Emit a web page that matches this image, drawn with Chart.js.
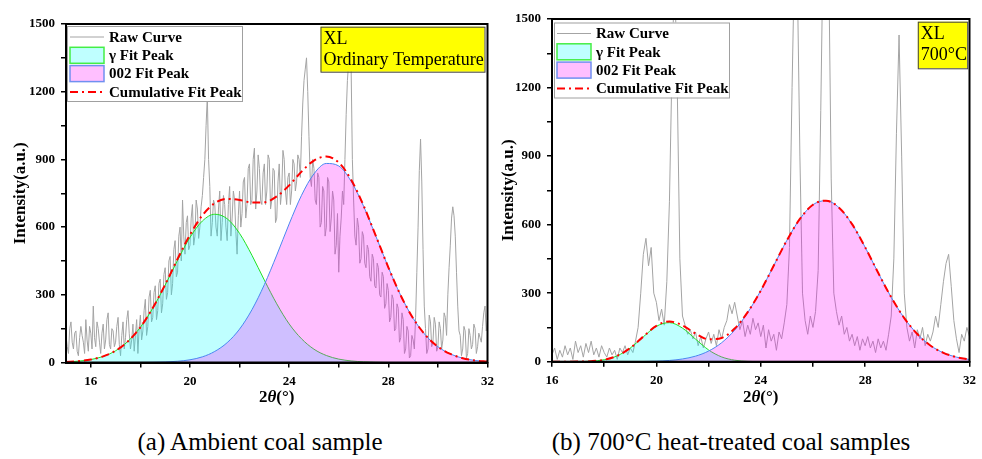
<!DOCTYPE html>
<html>
<head>
<meta charset="utf-8">
<script src="https://cdn.jsdelivr.net/npm/chart.js@4/dist/chart.umd.min.js"></script>
<style>
  html, body { margin:0; padding:0; background:#fff; }
  body { width:982px; height:459px; position:relative; overflow:hidden; font-family:'Liberation Serif','Times New Roman',serif; }
  .wrap { position:absolute; top:0; }
  .cap { position:absolute; top:427px; font-family:'Liberation Serif','Times New Roman',serif; font-size:25px; line-height:30px; white-space:nowrap; transform:translateX(-50%); color:#000; }
</style>
</head>
<body>
<div class="wrap" style="left:0px"><canvas id="c1" width="500" height="408"></canvas></div>
<div class="wrap" style="left:490px"><canvas id="c2" width="492" height="408"></canvas></div>
<div class="cap" style="left:260px">(a) Ambient coal sample</div>
<div class="cap" style="left:731px">(b) 700°C heat-treated coal samples</div>
<script>
// ---------- DATA ----------
const seriesLabels = ['Raw Curve', 'γ Fit Peak', '002 Fit Peak', 'Cumulative Fit Peak'];

// (a) Ambient: raw curve, 2θ = 15.00 .. 32.00 step 0.05
const rawStartA = 15.0, rawStepA = 0.05;
const rawA = [
  120,70,40,150,180,90,60,130,140,50,30,110,160,120,90,40,190,100,50,160,
  130,60,250,110,70,180,150,90,40,130,170,60,100,190,220,80,60,150,140,70,
  90,160,200,80,30,120,180,60,110,190,230,130,60,100,170,50,120,190,40,150,
  210,100,140,230,280,120,160,290,320,180,200,310,340,190,230,350,370,220,260,390,
  420,280,310,450,470,300,350,500,540,380,400,560,600,450,720,560,480,620,650,500,
  520,640,700,520,560,720,680,550,600,690,740,820,900,1050,1180,900,780,560,620,720,
  700,600,560,680,760,540,620,740,700,600,540,700,780,560,640,760,720,580,480,650,
  760,600,660,800,820,640,700,860,880,700,720,900,950,680,760,920,860,720,700,840,
  880,700,760,920,900,680,720,860,850,620,640,800,880,700,760,940,900,760,700,820,
  840,700,760,900,880,760,800,920,900,820,1000,1150,1250,1300,1350,1200,1000,820,780,900,
  860,720,700,840,820,600,620,780,760,560,600,820,800,580,640,760,720,480,520,660,
  400,560,640,760,700,900,1100,1250,1330,1400,1300,900,720,560,520,640,600,440,460,580,
  560,440,420,520,500,380,360,480,460,340,330,440,420,300,290,400,380,240,260,350,
  320,180,200,300,280,140,150,260,240,90,110,220,190,40,60,160,140,20,30,120,
  100,60,200,400,600,850,990,800,500,250,150,40,60,210,180,70,90,200,170,50,
  70,180,150,60,100,220,200,120,300,420,520,640,690,650,560,400,250,140,120,30,
  60,160,140,20,40,150,120,60,80,170,150,40,70,130,110,90,160,220,250,140,
  190
];
// (a) fit curves, 2θ = 15.0 .. 32.0 step 0.5
const fitStartA = 15.0, fitStepA = 0.5;
const gammaA = [2,6,13,27,52,94,156,241,343,453,554,627,657,637,572,475,365,260,171,105,59,31,15,7,3,1,0,0,0,0,0,0,0,0,0];
const peak002A = [0,0,0,0,0,0,0.3,0.9,2.3,5.5,12,25,49,88,148,234,345,476,614,741,836,882,871,803,693,559,422,297,196,121,70,38,19,9,4];
const cumA = [2,6,13,27,52,94,156,242,345,459,566,652,706,725,720,709,710,736,785,846,895,913,886,810,696,560,422,297,196,121,70,38,19,9,4];

// (b) 700°C: raw curve, 2θ = 16.0 .. 32.0 step 0.1
const rawStartB = 16.0, rawStepB = 0.1;
const rawB = [
  30,60,10,50,20,70,30,60,10,90,
  40,70,20,80,40,90,30,60,20,70,
  40,20,60,30,50,10,60,40,70,30,
  60,40,90,150,300,470,540,420,500,300,
  260,180,230,160,350,700,1300,1700,1200,450,
  200,160,120,140,100,130,70,110,60,100,
  130,80,120,70,140,100,150,180,250,210,
  260,200,140,180,110,160,120,190,140,170,
  110,160,60,140,90,120,50,130,100,170,
  250,500,1200,1800,1700,900,300,180,120,200,
  150,220,400,1100,1900,2100,1800,800,300,220,
  160,200,120,150,90,120,70,110,50,100,
  70,110,60,90,40,100,60,90,50,120,
  200,450,1000,1430,900,300,150,90,130,60,
  140,100,150,70,120,90,130,200,150,250,
  350,430,470,330,180,100,40,120,90,150,
  110
];
// (b) fit curves, 2θ = 16.0 .. 32.0 step 0.5
const fitStartB = 16.0, fitStepB = 0.5;
const gammaB = [0,0,0.4,2.2,8.5,25.6,60,109,155,171,147,99,51.5,20.9,6.6,1.6,0.3,0,0,0,0,0,0,0,0,0,0,0,0,0,0,0,0];
const peak002B = [0,0,0,0,0,0.1,0.3,0.9,2.3,5.4,11.9,24.3,46.5,83,138,215,311,421,531,625,687,705,674,602,501,389,282,191,121,71,39,20,9.6];
const cumB = [0,0,0.4,2.2,8.5,26,60,110,157,176,159,123,98,104,145,217,311,421,531,625,687,705,674,602,501,389,282,191,121,71,39,20,9.6];

const yTicks = [0,150,300,450,600,750,900,1050,1200,1350,1500];
const xTicksA = [16,18,20,22,24,26,28,30,32];
const xTicksB = [16,18,20,22,24,26,28,30,32];
const noteA = ['XL', 'Ordinary Temperature'];
const noteB = ['XL', '700°C'];

// ---------- HELPERS ----------
const FONT = "'Liberation Serif', 'Times New Roman', serif";
function pts(start, step, vals) {
  return vals.map((v, i) => ({ x: Math.round((start + i * step) * 1000) / 1000, y: v }));
}

const decor = {
  id: 'decor',
  afterDatasetsDraw(chart, args, o) {
    const { ctx, chartArea: a } = chart;
    ctx.save();
    ctx.strokeStyle = '#000'; ctx.lineWidth = 2; ctx.setLineDash([]);
    ctx.strokeRect(a.left, a.top, a.right - a.left, a.bottom - a.top);

    const lx = a.left + o.legend.dx, ly = a.top + o.legend.dy;
    const lw = 175, lh = 75;
    ctx.fillStyle = '#fff'; ctx.fillRect(lx, ly, lw, lh);
    ctx.strokeStyle = '#a0a0a0'; ctx.lineWidth = 1;
    ctx.strokeRect(lx + 0.5, ly + 0.5, lw, lh);
    const dsets = chart.data.datasets;
    for (let i = 0; i < dsets.length; i++) {
      const ds = dsets[i];
      const y = ly + 11 + i * 18.3;
      ctx.setLineDash([]);
      if (ds.fill) {
        ctx.fillStyle = '#fff'; ctx.fillRect(lx + 3, y - 8, 34, 16);
        ctx.fillStyle = ds.backgroundColor; ctx.fillRect(lx + 3, y - 8, 34, 16);
        ctx.strokeStyle = ds.legendBorder; ctx.lineWidth = 1.5;
        ctx.strokeRect(lx + 3, y - 8, 34, 16);
      } else {
        ctx.strokeStyle = ds.borderColor; ctx.lineWidth = ds.borderWidth;
        ctx.setLineDash(ds.borderDash || []);
        ctx.beginPath(); ctx.moveTo(lx + 3, y); ctx.lineTo(lx + 37, y); ctx.stroke();
      }
      ctx.setLineDash([]);
      ctx.fillStyle = '#000'; ctx.font = 'bold 15px ' + FONT;
      ctx.textBaseline = 'middle'; ctx.textAlign = 'left';
      ctx.fillText(ds.label, lx + 42, y + 1);
    }

    const n = o.note;
    const nx = a.right - n.dr - n.w, ny = a.top + n.dy;
    ctx.fillStyle = '#ffff00'; ctx.fillRect(nx, ny, n.w, n.h);
    ctx.strokeStyle = '#444'; ctx.lineWidth = 1; ctx.strokeRect(nx + 0.5, ny + 0.5, n.w, n.h);
    ctx.fillStyle = '#000'; ctx.font = '18px ' + FONT; ctx.textBaseline = 'middle';
    n.lines.forEach((t, i) => ctx.fillText(t, nx + 3, ny + 12.5 + i * 21.5));

    const parts = [['2', 'bold 17px '], ['θ', 'italic bold 17px '], ['(°)', 'bold 17px ']];
    let total = 0;
    parts.forEach(p => { ctx.font = p[1] + FONT; total += ctx.measureText(p[0]).width; });
    let x = (a.left + a.right) / 2 - total / 2;
    ctx.textBaseline = 'middle';
    parts.forEach(p => { ctx.font = p[1] + FONT; ctx.fillText(p[0], x, 398); x += ctx.measureText(p[0]).width; });
    ctx.restore();
  }
};

function makeChart(id, raw, rawStart, rawStep, g, b, c, fitStart, fitStep, xmin, xmax, xTicks, opts) {
  const tickFont = { family: FONT, size: 13, weight: 'bold' };
  return new Chart(document.getElementById(id), {
    type: 'line',
    data: {
      datasets: [
        { label: seriesLabels[0], data: pts(rawStart, rawStep, raw), borderColor: '#a4a4a4', borderWidth: 1,
          pointRadius: 0, fill: false, tension: 0, order: 4 },
        { label: seriesLabels[1], data: pts(fitStart, fitStep, g), borderColor: '#22e022', borderWidth: 1,
          backgroundColor: 'rgba(0,255,255,0.25)', legendBorder: '#44ee44', fill: 'origin', pointRadius: 0,
          cubicInterpolationMode: 'monotone', order: 3 },
        { label: seriesLabels[2], data: pts(fitStart, fitStep, b), borderColor: '#4a86f0', borderWidth: 1,
          backgroundColor: 'rgba(255,0,255,0.25)', legendBorder: '#7090f0', fill: 'origin', pointRadius: 0,
          cubicInterpolationMode: 'monotone', order: 2 },
        { label: seriesLabels[3], data: pts(fitStart, fitStep, c), borderColor: '#ff0000', borderWidth: 2,
          borderDash: [8, 4, 2, 4], fill: false, pointRadius: 0, cubicInterpolationMode: 'monotone', order: 1 }
      ]
    },
    options: {
      responsive: false, animation: false, devicePixelRatio: 1,
      layout: { padding: { left: 0, top: opts.top, right: opts.right, bottom: 0 } },
      plugins: { legend: { display: false }, tooltip: { enabled: false }, decor: opts.decor },
      scales: {
        x: {
          type: 'linear', min: xmin, max: xmax,
          afterBuildTicks: s => { s.ticks = xTicks.map(v => ({ value: v })); },
          afterFit: s => { s.height = opts.xh; },
          ticks: { font: tickFont, color: '#000', padding: 6, autoSkip: false, maxRotation: 0,
                   callback: v => (v % 4 === 0 ? String(v) : '') },
          grid: { drawOnChartArea: false, drawTicks: true, tickLength: 5, color: '#000', lineWidth: 1.5 },
          border: { display: true, width: 2, color: '#000' },
          title: { display: false }
        },
        y: {
          type: 'linear', min: 0, max: 1500,
          afterBuildTicks: s => { s.ticks = yTicks.map(v => ({ value: v })); },
          afterFit: s => { s.width = opts.yw; },
          ticks: { font: tickFont, color: '#000', padding: 6, autoSkip: false,
                   callback: v => (v % 300 === 0 ? String(v) : '') },
          grid: { drawOnChartArea: false, drawTicks: true, tickLength: 5, color: '#000', lineWidth: 1.5 },
          border: { display: true, width: 2, color: '#000' },
          title: { display: true, text: 'Intensity(a.u.)', color: '#000',
                   font: { family: FONT, size: 17, weight: 'bold' }, padding: { top: opts.ytp, bottom: 0 } }
        }
      }
    },
    plugins: [decor]
  });
}

makeChart('c1', rawA, rawStartA, rawStepA, gammaA, peak002A, cumA, fitStartA, fitStepA, 15, 32, xTicksA, {
  top: 24, right: 10, yw: 66, xh: 45.5, ytp: 10,
  decor: { legend: { dx: 1, dy: 2 }, note: { dr: 3, dy: 2.7, w: 164, h: 45, lines: noteA } }
});
makeChart('c2', rawB, rawStartB, rawStepB, gammaB, peak002B, cumB, fitStartB, fitStepB, 16, 32, xTicksB, {
  top: 19, right: 7, yw: 62, xh: 46.3, ytp: 8,
  decor: { legend: { dx: 2, dy: 3.5 }, note: { dr: 2.3, dy: 2.7, w: 49.4, h: 46.6, lines: noteB } }
});
</script>
</body>
</html>
